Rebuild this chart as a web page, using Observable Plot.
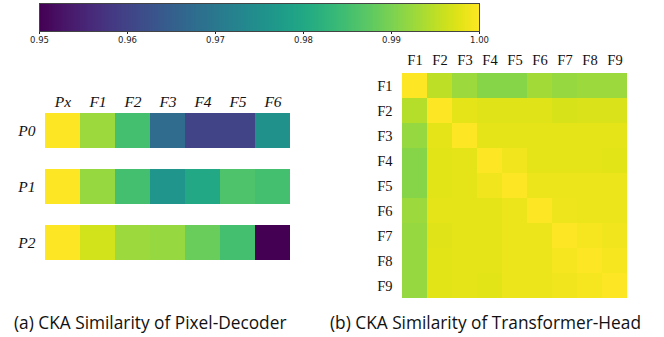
<!DOCTYPE html>
<html><head><meta charset="utf-8">
<script src="https://cdn.jsdelivr.net/npm/d3@7"></script>
<script src="https://cdn.jsdelivr.net/npm/@observablehq/plot@0.6"></script>
<style>
body{margin:0;background:#fff;}
#root{position:relative;width:664px;height:337px;overflow:hidden;}
#root > div, #root > svg{position:absolute;}
.cap{font-family:"Open Sans",sans-serif;font-size:17.3px;line-height:20px;color:#111;white-space:nowrap;}
</style></head>
<body><div id="root"></div>
<script>
// ---- data ----
const colorDomain = [0.95, 1.0];
const colorbarTicks = [0.95, 0.96, 0.97, 0.98, 0.99, 1.00];

const pdCols = ["Px", "F1", "F2", "F3", "F4", "F5", "F6"];
const pdRows = ["P0", "P1", "P2"];
const pdP0 = [1.000, 0.9925, 0.985, 0.9675, 0.9600, 0.9600, 0.9750];
const pdP1 = [1.000, 0.9920, 0.985, 0.9760, 0.9800, 0.9860, 0.9850];
const pdP2 = [1.000, 0.9965, 0.9925, 0.9920, 0.9885, 0.9850, 0.9500];

const thLabels = ["F1","F2","F3","F4","F5","F6","F7","F8","F9"];
const thF1 = [1.000, 0.9950, 0.9925, 0.9910, 0.9910, 0.9930, 0.9920, 0.9925, 0.9925];
const thF2 = [0.9945, 1.000, 0.9980, 0.9975, 0.9975, 0.9975, 0.9970, 0.9972, 0.9972];
const thF3 = [0.9920, 0.9980, 1.000, 0.9980, 0.9980, 0.9980, 0.9980, 0.9980, 0.9980];
const thF4 = [0.9910, 0.9978, 0.9980, 1.000, 0.9990, 0.9980, 0.9980, 0.9980, 0.9978];
const thF5 = [0.9910, 0.9978, 0.9980, 0.9990, 1.000, 0.9985, 0.9985, 0.9985, 0.9985];
const thF6 = [0.9925, 0.9980, 0.9980, 0.9980, 0.9985, 1.000, 0.9988, 0.9985, 0.9985];
const thF7 = [0.9920, 0.9975, 0.9980, 0.9980, 0.9985, 0.9985, 1.000, 0.9993, 0.9990];
const thF8 = [0.9920, 0.9978, 0.9980, 0.9980, 0.9985, 0.9985, 0.9993, 1.000, 0.9993];
const thF9 = [0.9920, 0.9978, 0.9980, 0.9978, 0.9985, 0.9985, 0.9990, 0.9993, 1.000];

const captionA = "(a) CKA Similarity of Pixel-Decoder";
const captionB = "(b) CKA Similarity of Transformer-Head";

// ---- build ----
const root = document.getElementById("root");
const color = {type: "linear", scheme: "viridis", domain: colorDomain};
function place(el, left, top) { el.style.left = left + "px"; el.style.top = top + "px"; root.appendChild(el); }

// colorbar
const cb = Plot.plot({
  width: 500, height: 50, marginLeft: 39, marginRight: 21, marginTop: 3, marginBottom: 19,
  style: {fontFamily: "DejaVu Sans, sans-serif", fontSize: "8.5px", color: "#222", background: "transparent"},
  color,
  x: {domain: colorDomain, ticks: colorbarTicks, tickFormat: ".2f", tickSize: 3, tickPadding: 2, label: null},
  y: {domain: [0, 1], axis: null},
  marks: [
    Plot.raster({x1: colorDomain[0], x2: colorDomain[1], y1: 0, y2: 1, width: 440, height: 1, fill: (x, y) => x, imageRendering: "auto"}),
    Plot.frame({stroke: "#444", strokeWidth: 1})
  ]
});
place(cb, 0, 0);

// pixel decoder heatmap
const pdVals = [pdP0, pdP1, pdP2];
const pdData = pdRows.flatMap((r, i) => pdCols.map((c, j) => ({row: r, col: c, v: pdVals[i][j]})));
const pd = Plot.plot({
  width: 300, height: 190, marginLeft: 43, marginRight: 8, marginTop: 27, marginBottom: 14,
  style: {fontFamily: "Liberation Serif, serif", fontSize: "15.5px", fontStyle: "italic", color: "#111", background: "transparent"},
  color,
  x: {domain: pdCols, axis: "top", tickSize: 0, tickPadding: 6, label: null, padding: 0},
  y: {domain: pdRows, tickSize: 0, tickPadding: 8, label: null, paddingInner: 0.37, paddingOuter: 0},
  marks: [Plot.cell(pdData, {x: "col", y: "row", fill: "v", inset: 0})]
});
place(pd, 0, 85);

// transformer head heatmap
const thVals = [thF1, thF2, thF3, thF4, thF5, thF6, thF7, thF8, thF9];
const thData = thLabels.flatMap((r, i) => thLabels.map((c, j) => ({row: r, col: c, v: thVals[i][j]})));
const th = Plot.plot({
  width: 270, height: 270, marginLeft: 30, marginRight: 7, marginTop: 22, marginBottom: 18,
  style: {fontFamily: "Liberation Serif, serif", fontSize: "14.5px", color: "#111", background: "transparent"},
  color,
  x: {domain: thLabels, axis: "top", tickSize: 0, tickPadding: 6, label: null, padding: 0},
  y: {domain: thLabels, tickSize: 0, tickPadding: 6, label: null, padding: 0},
  marks: [Plot.cell(thData, {x: "col", y: "row", fill: "v", inset: 0})]
});
place(th, 368, 48);

// captions
const ca = document.createElement("div"); ca.className = "cap"; ca.textContent = captionA; place(ca, 14, 313);
const cbx = document.createElement("div"); cbx.className = "cap"; cbx.textContent = captionB; place(cbx, 330, 313);
</script></body></html>
